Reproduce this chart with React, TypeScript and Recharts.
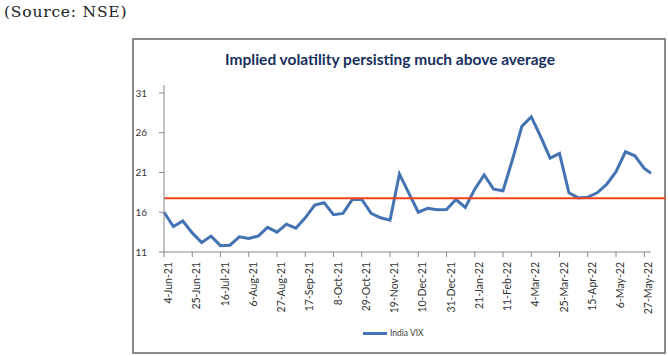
import React from 'react';
import { LineChart, Line, XAxis, YAxis, ReferenceLine } from 'recharts';

// Weekly observation dates (India VIX)
const dates: string[] = [
  '2021-06-04', '2021-06-11', '2021-06-18', '2021-06-25', '2021-07-02', '2021-07-09',
  '2021-07-16', '2021-07-23', '2021-07-30', '2021-08-06', '2021-08-13', '2021-08-20',
  '2021-08-27', '2021-09-03', '2021-09-10', '2021-09-17', '2021-09-24', '2021-10-01',
  '2021-10-08', '2021-10-15', '2021-10-22', '2021-10-29', '2021-11-05', '2021-11-12',
  '2021-11-19', '2021-11-26', '2021-12-03', '2021-12-10', '2021-12-17', '2021-12-24',
  '2021-12-31', '2022-01-07', '2022-01-14', '2022-01-21', '2022-01-28', '2022-02-04',
  '2022-02-11', '2022-02-18', '2022-02-25', '2022-03-04', '2022-03-11', '2022-03-18',
  '2022-03-25', '2022-04-01', '2022-04-08', '2022-04-15', '2022-04-22', '2022-04-29',
  '2022-05-06', '2022-05-13', '2022-05-20', '2022-05-27', '2022-06-01',
];

// India VIX values
const vix: number[] = [
  16.0, 14.2, 14.9, 13.4, 12.2, 13.0,
  11.8, 11.85, 12.9, 12.7, 13.0, 14.1,
  13.5, 14.5, 14.0, 15.3, 16.9, 17.2,
  15.7, 15.85, 17.6, 17.6, 15.85, 15.3,
  15.0, 20.8, 18.4, 16.0, 16.5, 16.3,
  16.35, 17.6, 16.6, 18.9, 20.7, 18.9,
  18.7, 22.6, 26.8, 28.0, 25.5, 22.8,
  23.4, 18.45, 17.8, 17.9, 18.45, 19.5,
  21.1, 23.6, 23.1, 21.5, 20.9,
];

const averageVix = 17.75;
const yTicks: number[] = [11, 16, 21, 26, 31];
const tickDates: string[] = [
  '2021-06-04', '2021-06-25', '2021-07-16', '2021-08-06', '2021-08-27', '2021-09-17',
  '2021-10-08', '2021-10-29', '2021-11-19', '2021-12-10', '2021-12-31', '2022-01-21',
  '2022-02-11', '2022-03-04', '2022-03-25', '2022-04-15', '2022-05-06', '2022-05-27',
];
const MONTHS = ['Jan', 'Feb', 'Mar', 'Apr', 'May', 'Jun', 'Jul', 'Aug', 'Sep', 'Oct', 'Nov', 'Dec'];

const DAY = 86400000;
const t0 = Date.parse(dates[0]);
const toDay = (s: string) => Math.round((Date.parse(s) - t0) / DAY);
const data = dates.map((d, i) => ({ day: toDay(d), vix: vix[i] }));
const tickDays = tickDates.map(toDay);
const lastDay = toDay(dates[dates.length - 1]);

const fmt = (day: number) => {
  const d = new Date(t0 + day * DAY);
  return `${d.getUTCDate()}-${MONTHS[d.getUTCMonth()]}-${String(d.getUTCFullYear()).slice(2)}`;
};

const BLUE = '#4373B3';
const RED = '#F2421B';
const FONT = 'Lato, "Liberation Sans", sans-serif';

const XTick = (props: any) => {
  const { x, y, payload } = props;
  const tx = x + 4;
  const ty = y + 3;
  return (
    <text
      x={tx}
      y={ty}
      transform={`rotate(-90, ${tx}, ${ty})`}
      textAnchor="end"
      dominantBaseline="central"
      fontSize={10.5}
      fontFamily={FONT}
      fill="#333"
    >
      {fmt(payload.value)}
    </text>
  );
};

export default function App() {
  return (
    <div style={{ position: 'absolute', left: 0, top: 0, width: 668, height: 356, background: '#fff' }}>
      <div
        style={{
          position: 'absolute',
          left: 4,
          top: 3,
          fontFamily: '"DejaVu Serif", serif',
          fontSize: 15.5,
          letterSpacing: 0.8,
          color: '#222',
          whiteSpace: 'nowrap',
        }}
      >
        (Source: NSE)
      </div>
      <div
        style={{
          position: 'absolute',
          left: 132,
          top: 38,
          width: 534,
          height: 316,
          border: '2px solid #8a8a8a',
          boxSizing: 'border-box',
        }}
      />
      <div
        style={{
          position: 'absolute',
          left: 132,
          top: 50,
          width: 516,
          textAlign: 'center',
          fontFamily: FONT,
          fontWeight: 700,
          fontSize: 15.5,
          color: '#17305E',
          whiteSpace: 'nowrap',
        }}
      >
        Implied volatility persisting much above average
      </div>
      <div style={{ position: 'absolute', left: 0, top: 0 }}>
        <LineChart width={668} height={356} data={data} margin={{ top: 85, right: 17, left: 0, bottom: 0 }}>
          <XAxis
            type="number"
            dataKey="day"
            domain={[0, lastDay]}
            ticks={tickDays}
            interval={0}
            height={104}
            tickSize={5}
            tick={<XTick />}
            axisLine={{ stroke: '#868686' }}
            tickLine={{ stroke: '#868686' }}
          />
          <YAxis
            type="number"
            domain={[11, 32]}
            ticks={yTicks}
            interval={0}
            width={164}
            tickSize={5}
            tickMargin={12}
            tick={{ fill: '#333', fontSize: 10, fontFamily: FONT }}
            axisLine={{ stroke: '#868686' }}
            tickLine={{ stroke: '#868686' }}
          />
          <Line
            type="linear"
            dataKey="vix"
            name="India VIX"
            stroke={BLUE}
            strokeWidth={3}
            dot={false}
            isAnimationActive={false}
          />
          <ReferenceLine
            segment={[
              { x: 0, y: averageVix },
              { x: 373, y: averageVix },
            ]}
            ifOverflow="visible"
            stroke={RED}
            strokeWidth={2}
          />
        </LineChart>
      </div>
      <div
        style={{
          position: 'absolute',
          left: 363,
          top: 328,
          display: 'flex',
          alignItems: 'center',
          fontFamily: FONT,
          fontSize: 8.5,
          color: '#404040',
          whiteSpace: 'nowrap',
        }}
      >
        <span style={{ display: 'inline-block', width: 24, height: 3, background: BLUE, marginRight: 3 }} />
        <span>India VIX</span>
      </div>
    </div>
  );
}
